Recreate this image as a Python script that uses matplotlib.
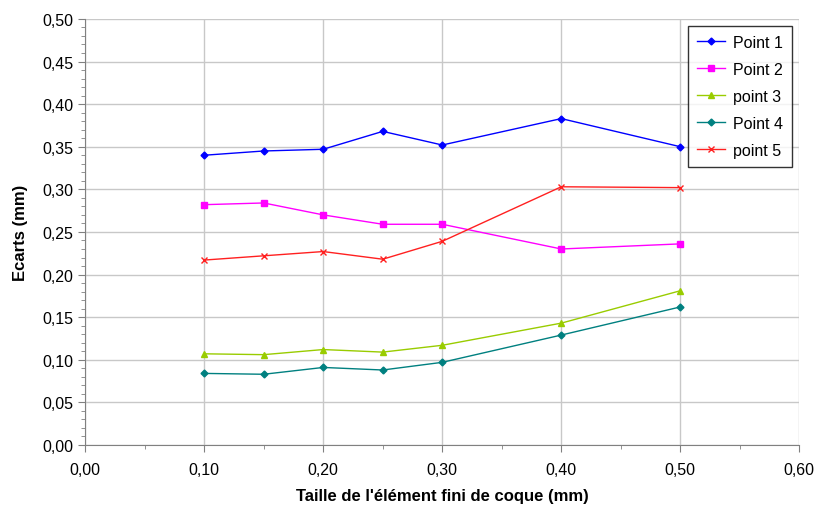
import matplotlib
matplotlib.use("Agg")
import matplotlib.pyplot as plt
from matplotlib.ticker import MultipleLocator, FuncFormatter

plt.rcParams['font.family'] = ['Liberation Sans', 'DejaVu Sans']

x = [0.10, 0.15, 0.20, 0.25, 0.30, 0.40, 0.50]
point1 = [0.340, 0.345, 0.347, 0.368, 0.352, 0.383, 0.350]
point2 = [0.282, 0.284, 0.270, 0.259, 0.259, 0.230, 0.236]
point3 = [0.107, 0.106, 0.112, 0.109, 0.117, 0.143, 0.181]
point4 = [0.084, 0.083, 0.091, 0.088, 0.097, 0.129, 0.162]
point5 = [0.217, 0.222, 0.227, 0.218, 0.239, 0.303, 0.302]

fig = plt.figure(figsize=(8.19, 5.10), dpi=100)
ax = fig.add_axes([0.104, 0.1255, 0.872, 0.8355])

ax.plot(x, point1, color='#0000FF', marker='D', markersize=3.5, lw=1, label='Point 1')
ax.plot(x, point2, color='#FF00FF', marker='s', markersize=4.5, lw=1, label='Point 2')
ax.plot(x, point3, color='#99CC00', marker='^', markersize=5, lw=1, label='point 3')
ax.plot(x, point4, color='#008080', marker='D', markersize=3.5, lw=1, label='Point 4')
ax.plot(x, point5, color='#FF2020', marker='x', markersize=5, lw=1, label='point 5')

ax.set_xlim(0, 0.6)
ax.set_ylim(0, 0.5)
ax.xaxis.set_major_locator(MultipleLocator(0.1))
ax.xaxis.set_minor_locator(MultipleLocator(0.05))
ax.yaxis.set_major_locator(MultipleLocator(0.05))
ax.yaxis.set_minor_locator(MultipleLocator(0.01))
comma = FuncFormatter(lambda v, p: f"{v:.2f}".replace('.', ','))
ax.xaxis.set_major_formatter(comma)
ax.yaxis.set_major_formatter(comma)
ax.tick_params(which='major', direction='out', length=5, labelsize=11.5, color='#808080')
ax.tick_params(which='minor', direction='out', length=3, color='#808080')
ax.tick_params(axis='x', pad=7)

ax.grid(True, which='major', color='#C8C8C8', lw=1)
ax.set_axisbelow(True)
for s in ['top', 'right']:
    ax.spines[s].set_visible(False)
for s in ['left', 'bottom']:
    ax.spines[s].set_color('#808080')

ax.set_xlabel("Taille de l'élément fini de coque (mm)", fontsize=12, fontweight='bold', labelpad=8)
ax.set_ylabel("Ecarts (mm)", fontsize=12, fontweight='bold', labelpad=10)

leg = ax.legend(loc='upper right', bbox_to_anchor=(0.990, 0.983), fontsize=11.5, frameon=True,
                fancybox=False, edgecolor='black', handlelength=1.8, handletextpad=0.5,
                labelspacing=0.75, borderpad=0.55, borderaxespad=0)
leg.get_frame().set_linewidth(1)

fig.savefig('out.png', dpi=100)
